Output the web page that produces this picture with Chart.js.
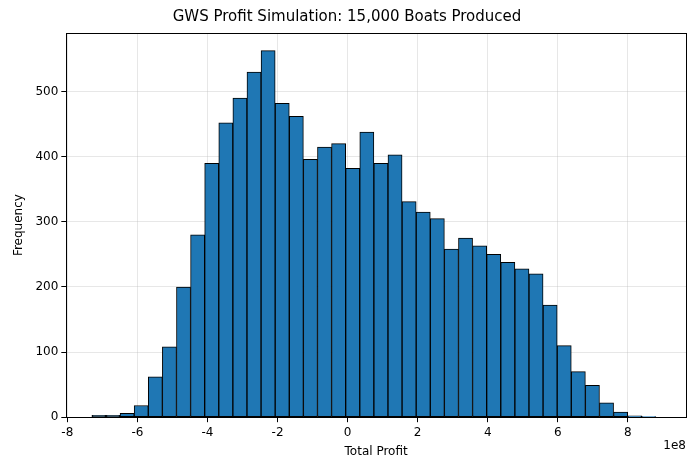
<!DOCTYPE html>
<html>
<head>
<meta charset="utf-8">
<script src="https://cdn.jsdelivr.net/npm/chart.js@4"></script>
<style>
  body { margin: 0; background: #fff; }
  canvas { display: block; }
</style>
</head>
<body>
<canvas id="grafico" width="695" height="470"></canvas>
<script>
// Histogram bins (units of 1e8)
const binStart = -7.3;
const binWidth = 0.4025;
const frecuencias = [3, 3, 6, 18, 62, 108, 200, 280, 390, 452, 490, 530, 563, 482, 462, 396, 415, 420, 382, 438,
                     390, 403, 331, 315, 305, 258, 275, 263, 250, 238, 228, 220, 172, 110, 70, 49, 22, 8, 2, 1];
const xTicks = [-8, -6, -4, -2, 0, 2, 4, 6, 8];
const yTicks = [0, 100, 200, 300, 400, 500];

const puntos = frecuencias.map((f, i) => ({ x: binStart + binWidth * (i + 0.5), y: f }));

// caja del eje + etiqueta "1e8" como matplotlib
const marcoYOffset = {
    id: 'marcoYOffset',
    afterDraw(chart) {
        const ctx = chart.ctx, a = chart.chartArea;
        ctx.save();
        ctx.strokeStyle = '#000';
        ctx.lineWidth = 1;
        ctx.strokeRect(Math.round(a.left) + 0.5, Math.round(a.top) + 0.5,
                       Math.round(a.right - a.left), Math.round(a.bottom - a.top));
        ctx.font = '12px "DejaVu Sans"';
        ctx.fillStyle = '#000';
        ctx.textAlign = 'right';
        ctx.textBaseline = 'top';
        ctx.fillText('1e8', a.right, a.bottom + 23);
        ctx.restore();
    }
};

new Chart(document.getElementById('grafico').getContext('2d'), {
    type: 'bar',
    data: {
        datasets: [{
            data: puntos,
            backgroundColor: '#1f77b4',
            borderColor: '#000',
            borderWidth: 1,
            barPercentage: 1,
            categoryPercentage: 1,
            borderSkipped: false
        }]
    },
    options: {
        responsive: false,
        animation: false,
        layout: { padding: { left: 8, right: 9, top: 0, bottom: 7 } },
        plugins: {
            legend: { display: false },
            tooltip: { enabled: false },
            title: {
                display: true,
                text: 'GWS Profit Simulation: 15,000 Boats Produced',
                color: '#000',
                font: { family: 'DejaVu Sans', size: 15, weight: 'normal' },
                padding: { top: 8, bottom: 7 }
            }
        },
        scales: {
            x: {
                type: 'linear',
                offset: false,
                min: -8.03, max: 9.66,
                afterBuildTicks: s => { s.ticks = xTicks.map(v => ({ value: v })); },
                ticks: { color: '#000', font: { family: 'DejaVu Sans', size: 12 }, padding: 3 },
                grid: { offset: false, color: 'rgba(176,176,176,0.3)', tickColor: '#000', tickLength: 5 },
                border: { color: '#000' },
                title: { display: true, text: 'Total Profit', color: '#000', font: { family: 'DejaVu Sans', size: 12 }, padding: { top: 2 } }
            },
            y: {
                min: 0, max: 590,
                afterBuildTicks: s => { s.ticks = yTicks.map(v => ({ value: v })); },
                ticks: { color: '#000', font: { family: 'DejaVu Sans', size: 12 }, padding: 3 },
                grid: { color: 'rgba(176,176,176,0.3)', tickColor: '#000', tickLength: 5 },
                border: { color: '#000' },
                title: { display: true, text: 'Frequency', color: '#000', font: { family: 'DejaVu Sans', size: 12 }, padding: { bottom: 6 } }
            }
        }
    },
    plugins: [marcoYOffset]
});
</script>
</body>
</html>
